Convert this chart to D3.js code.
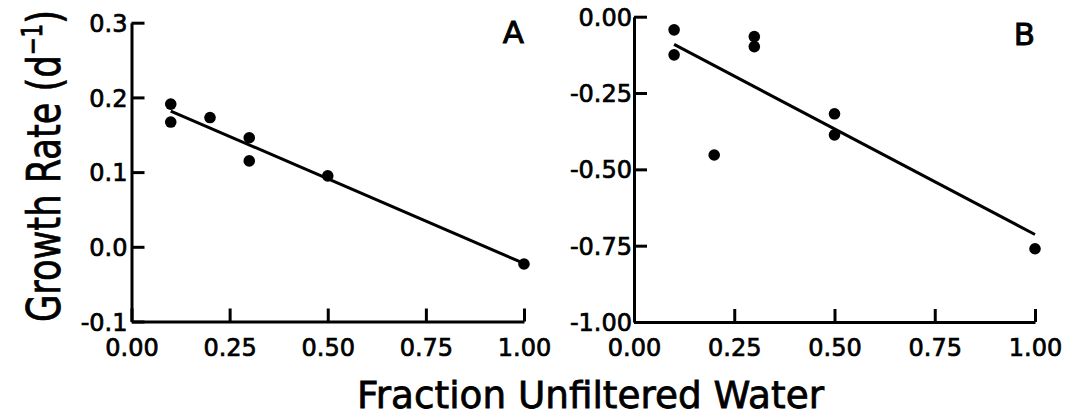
<!DOCTYPE html>
<html>
<head>
<meta charset="utf-8">
<script src="https://cdn.jsdelivr.net/npm/d3@7"></script>
<style>
  body { margin: 0; background: #fff; }
  text { font-family: "DejaVu Sans", sans-serif; fill: #000; }
</style>
</head>
<body>
<svg id="chart" width="1067" height="418"></svg>
<script>
// Panel A: growth rate vs fraction of unfiltered water
var fracA = [0.1, 0.1, 0.2, 0.3, 0.3, 0.5, 1.0];
var rateA = [0.191, 0.167, 0.173, 0.146, 0.115, 0.095, -0.023];

// Panel B
var fracB = [0.1, 0.1, 0.2, 0.3, 0.3, 0.5, 0.5, 1.0];
var rateB = [-0.043, -0.125, -0.453, -0.065, -0.098, -0.318, -0.387, -0.76];

// tick values + labels
var xTicks = [0, 0.25, 0.5, 0.75, 1];
var xTickLabels = ["0.00", "0.25", "0.50", "0.75", "1.00"];
var yTicksA = [-0.1, 0, 0.1, 0.2, 0.3];
var yTickLabelsA = ["-0.1", "0.0", "0.1", "0.2", "0.3"];
var yTicksB = [-1, -0.75, -0.5, -0.25, 0];
var yTickLabelsB = ["-1.00", "-0.75", "-0.50", "-0.25", "0.00"];

var svg = d3.select("#chart");

// least squares line
function fit(xs, ys) {
  var mx = d3.mean(xs), my = d3.mean(ys);
  var sxy = d3.sum(xs, function(d, i) { return (d - mx) * (ys[i] - my); });
  var sxx = d3.sum(xs, function(d) { return (d - mx) * (d - mx); });
  var b = sxy / sxx;
  return { a: my - b * mx, b: b };
}

function drawPanel(p) {
  var x = d3.scaleLinear().domain([0, 1]).range([p.left, p.right]);
  var y = d3.scaleLinear().domain(p.yDomain).range([p.bottom, p.top]);
  var g = svg.append("g");

  var yAxis = d3.axisLeft(y)
    .tickValues(p.yTicks)
    .tickFormat(function(d, i) { return p.yLabels[i]; })
    .tickSizeInner(-13)
    .tickSizeOuter(0)
    .tickPadding(p.yPad);
  var xAxis = d3.axisBottom(x)
    .tickValues(xTicks)
    .tickFormat(function(d, i) { return xTickLabels[i]; })
    .tickSizeInner(-13)
    .tickSizeOuter(0)
    .tickPadding(17);

  var ya = g.append("g").attr("transform", "translate(" + p.left + ",0)").call(yAxis);
  var xa = g.append("g").attr("transform", "translate(0," + p.bottom + ")").call(xAxis);

  [ya, xa].forEach(function(a) {
    a.selectAll("path, line").attr("stroke", "#000").attr("stroke-width", 3);
    a.selectAll("text")
      .attr("font-family", "DejaVu Sans, sans-serif")
      .attr("font-size", 24)
      .attr("fill", "#000")
      .attr("stroke", "#000")
      .attr("stroke-width", 0.7);
  });
  ya.selectAll("text").attr("dy", "0.36em");

  // regression line over the sampled range
  var f = fit(p.xs, p.ys);
  var ext = d3.extent(p.xs);
  g.append("path")
    .datum(ext)
    .attr("fill", "none")
    .attr("stroke", "#000")
    .attr("stroke-width", 3)
    .attr("d", d3.line()
      .x(function(d) { return x(d); })
      .y(function(d) { return y(f.a + f.b * d); }));

  g.selectAll("circle")
    .data(p.xs)
    .enter()
    .append("circle")
      .attr("cx", function(d) { return x(d); })
      .attr("cy", function(d, i) { return y(p.ys[i]); })
      .attr("r", 5.8)
      .attr("fill", "#000");

  g.append("text")
    .attr("x", p.right)
    .attr("y", p.letterY)
    .attr("text-anchor", "end")
    .attr("font-size", 31)
    .attr("stroke", "#000")
    .attr("stroke-width", 0.9)
    .text(p.letter);
}

drawPanel({
  left: 131.5, right: 524, top: 22.7, bottom: 321.5,
  yDomain: [-0.1, 0.3], yTicks: yTicksA, yLabels: yTickLabelsA, yPad: 4,
  xs: fracA, ys: rateA, letter: "A", letterY: 43
});

drawPanel({
  left: 634, right: 1035, top: 16.7, bottom: 322,
  yDomain: [-1, 0], yTicks: yTicksB, yLabels: yTickLabelsB, yPad: 2,
  xs: fracB, ys: rateB, letter: "B", letterY: 45
});

// y axis title, squeezed to the length seen in the figure
var yt = svg.append("text")
  .attr("text-anchor", "middle")
  .attr("font-size", 46)
  .attr("stroke", "#000")
  .attr("stroke-width", 0.8);
yt.append("tspan").text("Growth Rate (d");
yt.append("tspan").attr("font-size", 28).attr("dy", -18).text("\u2212");
yt.append("tspan").attr("font-size", 28).text("1");
yt.append("tspan").attr("dy", 18).text(")");
var ytLen = yt.node().getComputedTextLength();
var k = 312 / ytLen;
yt.attr("transform", "translate(60,166) rotate(-90) scale(" + k + ",1)");

// x axis title
svg.append("text")
  .attr("x", 590.5)
  .attr("y", 408)
  .attr("text-anchor", "middle")
  .attr("font-size", 38)
  .attr("stroke", "#000")
  .attr("stroke-width", 0.8)
  .attr("textLength", 467)
  .attr("lengthAdjust", "spacingAndGlyphs")
  .text("Fraction Unfiltered Water");
</script>
</body>
</html>
